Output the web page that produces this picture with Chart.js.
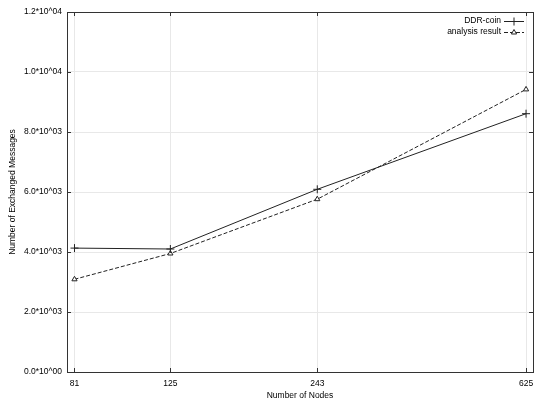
<!DOCTYPE html>
<html>
<head>
<meta charset="utf-8">
<script src="https://cdn.jsdelivr.net/npm/chart.js@4"></script>
<style>
html,body{margin:0;padding:0;background:#fff;}
#wrap{width:550px;height:407px;position:relative;}
</style>
</head>
<body>
<div id="wrap"><canvas id="c" width="550" height="407"></canvas></div>
<script>
const nodes = [81, 125, 243, 625];
const ddrCoin = [4130, 4100, 6090, 8610];
const analysisResult = [3090, 3950, 5760, 9420];
const xTicks = [81, 125, 243, 625];
const yTicks = [0, 2000, 4000, 6000, 8000, 10000, 12000];
const seriesNames = ['DDR-coin', 'analysis result'];

const FONT = '"Liberation Sans", Arial, sans-serif';
const INK = '#222';

function sci(v) {
  if (v === 0) return '0.0*10^00';
  const e = Math.floor(Math.log10(v) + 1e-9);
  const m = v / Math.pow(10, e);
  return m.toFixed(1) + '*10^' + String(e).padStart(2, '0');
}

const boxTicks = {
  id: 'boxTicks',
  afterDraw(chart) {
    const ctx = chart.ctx, a = chart.chartArea;
    const xs = chart.scales.x, ys = chart.scales.y;
    ctx.save();
    ctx.strokeStyle = '#333';
    ctx.lineWidth = 1;
    ctx.strokeRect(Math.round(a.left) + 0.5, Math.round(a.top) + 0.5, Math.round(a.right - a.left), Math.round(a.bottom - a.top));
    const L = 4;
    ctx.beginPath();
    xTicks.forEach(v => {
      const px = Math.round(xs.getPixelForValue(v)) + 0.5;
      ctx.moveTo(px, a.bottom); ctx.lineTo(px, a.bottom - L);
      ctx.moveTo(px, a.top); ctx.lineTo(px, a.top + L);
    });
    yTicks.forEach(v => {
      const py = Math.round(ys.getPixelForValue(v)) + 0.5;
      ctx.moveTo(a.left, py); ctx.lineTo(a.left + L, py);
      ctx.moveTo(a.right, py); ctx.lineTo(a.right - L, py);
    });
    ctx.stroke();

    // legend
    ctx.font = '8.5px ' + FONT;
    ctx.textAlign = 'right';
    ctx.textBaseline = 'middle';
    const rows = [20.5, 31.5];
    chart.data.datasets.forEach((ds, i) => {
      const y = Math.round(rows[i]) + 0.5;
      ctx.fillStyle = '#000';
      ctx.fillText(ds.label, 501, rows[i]);
      ctx.strokeStyle = INK;
      ctx.lineWidth = 1;
      ctx.setLineDash(ds.borderDash || []);
      ctx.beginPath();
      ctx.moveTo(504, y); ctx.lineTo(524, y);
      ctx.stroke();
      ctx.setLineDash([]);
      ctx.fillStyle = '#fff';
      Chart.helpers.drawPoint(ctx, {pointStyle: ds.pointStyle, radius: ds.pointRadius, borderWidth: 1}, 514, y);
    });
    ctx.restore();
  }
};

new Chart(document.getElementById('c'), {
  type: 'line',
  data: {
    datasets: [
      {
        label: seriesNames[0],
        data: nodes.map((n, i) => ({x: n, y: ddrCoin[i]})),
        borderColor: INK, backgroundColor: 'transparent', borderWidth: 1,
        pointStyle: 'cross', pointRadius: 4, pointBorderColor: INK, pointBorderWidth: 1,
        tension: 0
      },
      {
        label: seriesNames[1],
        data: nodes.map((n, i) => ({x: n, y: analysisResult[i]})),
        borderColor: INK, backgroundColor: 'transparent', borderWidth: 1, borderDash: [4, 2],
        pointStyle: 'triangle', pointRadius: 3, pointBorderColor: INK, pointBackgroundColor: '#fff', pointBorderWidth: 1,
        tension: 0
      }
    ]
  },
  options: {
    responsive: false,
    animation: false,
    layout: {padding: {left: 0, right: 17, top: 12, bottom: 6}},
    plugins: {legend: {display: false}, tooltip: {enabled: false}},
    scales: {
      x: {
        type: 'logarithmic',
        min: 78.3, max: 645,
        afterBuildTicks(s) { s.ticks = xTicks.map(v => ({value: v})); },
        afterFit(s) { s.height = 29; },
        ticks: {
          autoSkip: false, maxRotation: 0, padding: 7,
          color: '#000', font: {family: FONT, size: 8.5},
          callback: v => String(v)
        },
        grid: {color: '#e8e8e8', drawTicks: false},
        border: {color: '#333', width: 1},
        title: {display: true, text: 'Number of Nodes', color: '#000', font: {family: FONT, size: 8.5}, padding: {top: 2, bottom: 0}}
      },
      y: {
        min: 0, max: 12000,
        afterBuildTicks(s) { s.ticks = yTicks.map(v => ({value: v})); },
        afterFit(s) { s.width = 67; },
        ticks: {
          padding: 5, color: '#000', font: {family: FONT, size: 8.5},
          callback: v => sci(v)
        },
        grid: {color: '#e8e8e8', drawTicks: false},
        border: {color: '#333', width: 1},
        title: {display: true, text: 'Number of Exchanged Messages', color: '#000', font: {family: FONT, size: 8.5}, padding: {top: 8, bottom: 0}}
      }
    }
  },
  plugins: [boxTicks]
});
</script>
</body>
</html>
